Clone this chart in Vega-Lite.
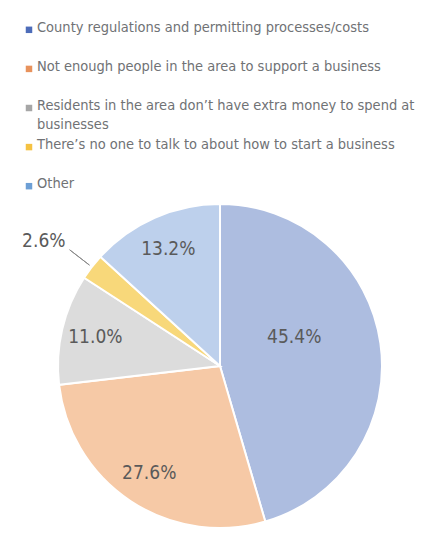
{
  "$schema": "https://vega.github.io/schema/vega-lite/v6.json",
  "background": "white",
  "padding": {"left": 22, "top": 19, "right": 0, "bottom": 0},
  "bounds": "flush",
  "config": {"view": {"stroke": null}, "font": "DejaVu Sans Condensed, Liberation Sans, sans-serif"},
  "data": {
    "values": [
      {"idx": 1, "category": "County regulations and permitting processes/costs", "pct": 45.4},
      {"idx": 2, "category": "Not enough people in the area to support a business", "pct": 27.6},
      {"idx": 3, "category": "Residents in the area don’t have extra money to spend at\nbusinesses", "pct": 11.0},
      {"idx": 4, "category": "There’s no one to talk to about how to start a business", "pct": 2.6},
      {"idx": 5, "category": "Other", "pct": 13.2}
    ]
  },
  "spacing": 10,
  "resolve": {"scale": {"color": "independent"}},
  "vconcat": [
    {
      "width": 382,
      "height": 172,
      "encoding": {
        "y": {"field": "category", "type": "ordinal", "sort": {"field": "idx"}, "scale": {"type": "point", "padding": 0.2}, "axis": null},
        "x": {"datum": 0, "type": "quantitative", "scale": {"domain": [0, 1]}, "axis": null}
      },
      "layer": [
        {
          "mark": {"type": "square", "size": 42, "opacity": 1, "filled": true},
          "encoding": {
            "color": {
              "field": "category", "type": "nominal", "sort": {"field": "idx"}, "legend": null,
              "scale": {"range": ["#4d6cb9", "#e8925c", "#a6a6a6", "#f5c242", "#6d9fd5"]}
            }
          }
        },
        {
          "mark": {"type": "text", "align": "left", "baseline": "top", "dx": 8, "dy": -9, "fontSize": 14.5, "color": "#707275", "lineBreak": "\n", "lineHeight": 19},
          "encoding": {"text": {"field": "category"}}
        }
      ]
    },
    {
      "width": 382,
      "height": 324,
      "transform": [
        {"stack": "pct", "groupby": [], "sort": [{"field": "idx", "order": "ascending"}], "as": ["t0", "t1"]},
        {"calculate": "(datum.t0 + datum.t1) / 2", "as": "tmid"},
        {"calculate": "format(datum.pct, '.1f') + '%'", "as": "label"}
      ],
      "layer": [
        {
          "mark": {"type": "arc", "stroke": "white", "strokeWidth": 2},
          "encoding": {
            "theta": {"field": "t0", "type": "quantitative", "stack": null, "scale": {"domain": [0, 99.8]}},
            "theta2": {"field": "t1"},
            "color": {
              "field": "category", "type": "nominal", "sort": {"field": "idx"}, "legend": null,
              "scale": {"range": ["#adbde0", "#f6c9a6", "#dcdcdc", "#f8d87a", "#bdd0ec"]}
            }
          }
        },
        {
          "transform": [{"filter": "datum.idx == 4"}],
          "mark": {"type": "arc", "radius": 190, "radius2": 165, "padAngle": 0.6, "filled": false, "stroke": "#8a8a8a", "strokeWidth": 1},
          "encoding": {
            "theta": {"field": "t0", "type": "quantitative", "stack": null},
            "theta2": {"field": "t1"}
          }
        },
        {
          "transform": [{"filter": "datum.idx == 1"}],
          "mark": {"type": "text", "radius": 75, "fontSize": 19, "color": "#5a5a5a", "dy": -18},
          "encoding": {"theta": {"field": "tmid", "type": "quantitative", "stack": null}, "text": {"field": "label"}}
        },
        {
          "transform": [{"filter": "datum.idx == 2 || datum.idx == 3 || datum.idx == 5"}],
          "mark": {"type": "text", "radius": 128, "fontSize": 19, "color": "#5a5a5a"},
          "encoding": {"theta": {"field": "tmid", "type": "quantitative", "stack": null}, "text": {"field": "label"}}
        },
        {
          "transform": [{"filter": "datum.idx == 4"}],
          "mark": {"type": "text", "radius": 205, "fontSize": 19, "color": "#5a5a5a", "dx": -14},
          "encoding": {"theta": {"field": "tmid", "type": "quantitative", "stack": null}, "text": {"field": "label"}}
        }
      ]
    }
  ]
}
